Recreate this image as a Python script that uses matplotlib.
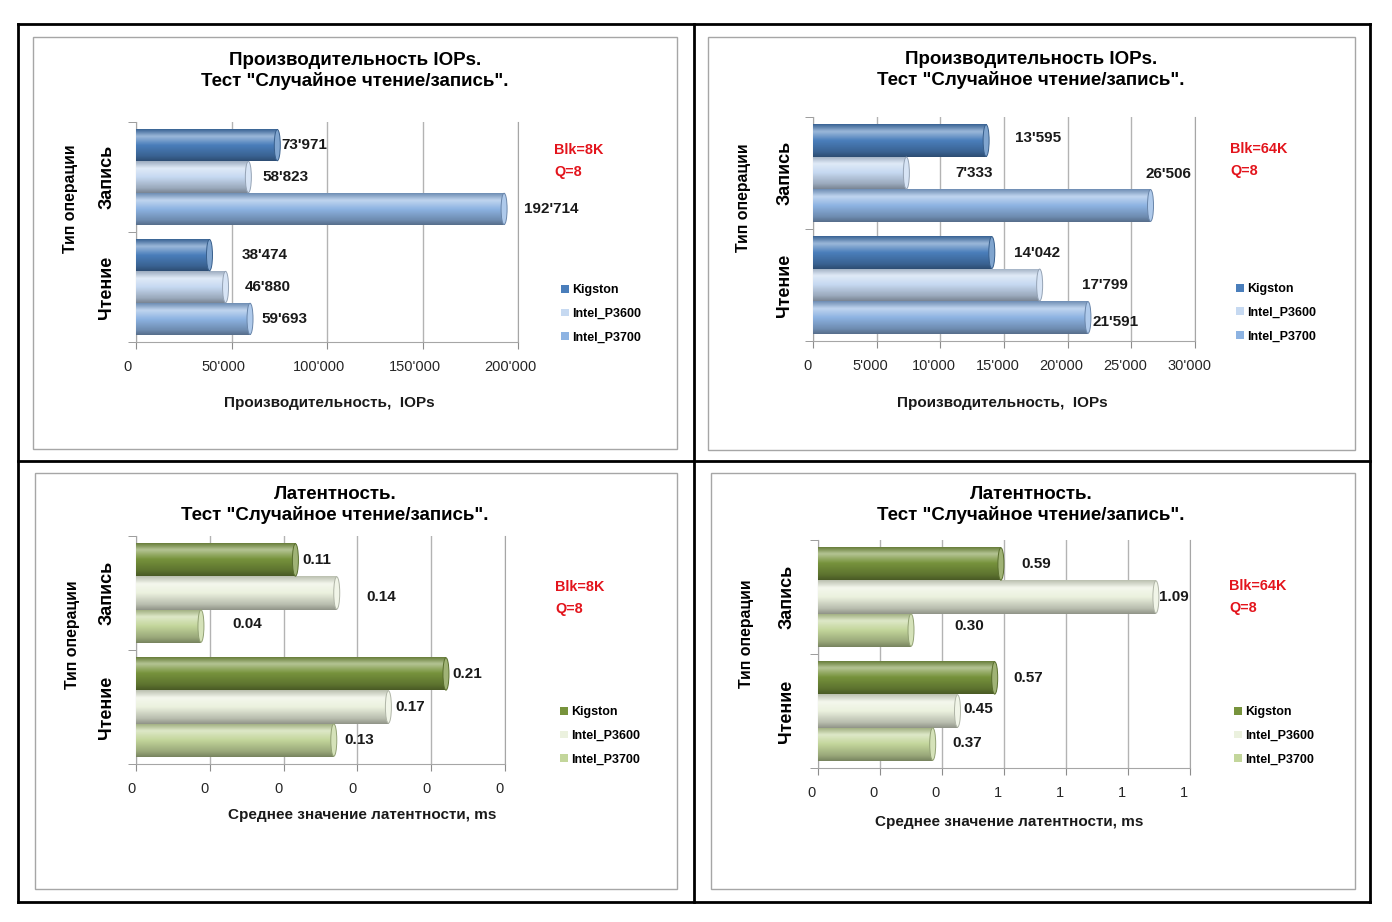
import numpy as np
import matplotlib
matplotlib.use('Agg')
import matplotlib.pyplot as plt
from matplotlib.colors import to_rgb
from matplotlib.patches import Ellipse, Rectangle
from matplotlib.lines import Line2D
from matplotlib.transforms import ScaledTranslation

plt.rcParams['font.family'] = ['Liberation Sans', 'DejaVu Sans']

W, H = 1392, 922

# data: index 0 = Чтение (read), 1 = Запись (write)
categories = ['Чтение', 'Запись']
series = ['Kigston', 'Intel_P3600', 'Intel_P3700']

iops8k_kingston = [38474, 73971]
iops8k_p3600 = [46880, 58823]
iops8k_p3700 = [59693, 192714]

iops64k_kingston = [14042, 13595]
iops64k_p3600 = [17799, 7333]
iops64k_p3700 = [21591, 26506]

lat8k_kingston = [0.21, 0.108]
lat8k_p3600 = [0.171, 0.136]
lat8k_p3700 = [0.134, 0.044]

lat64k_kingston = [0.57, 0.59]
lat64k_p3600 = [0.45, 1.09]
lat64k_p3700 = [0.37, 0.30]

blue_colors = ['#4a7ebb', '#c6d9f1', '#8db3e2']
green_colors = ['#77933c', '#ebf1de', '#c3d69b']

title_iops = 'Производительность IOPs.\nТест "Случайное чтение/запись".'
title_lat = 'Латентность.\nТест "Случайное чтение/запись".'
xlabel_iops = 'Производительность,  IOPs'
xlabel_lat = 'Среднее значение латентности, ms'


def px_rect(l, t, r, b):
    return [l / W, 1 - b / H, (r - l) / W, (b - t) / H]


def fx(x):
    return x / W


def fy(y):
    return 1 - y / H


def shade(c):
    # vertical gradient that makes a flat bar look like a cylinder
    c = np.array(to_rgb(c))
    white = np.ones(3)
    stops = [(0.0, c * 0.8), (0.22, c + (white - c) * 0.45), (0.5, c),
             (0.85, c * 0.78), (1.0, c * 0.62)]
    t = np.linspace(0, 1, 40)
    rows = np.array([np.interp(t, [s[0] for s in stops], [s[1][k] for s in stops]) for k in range(3)]).T
    return rows[:, None, :]


def iops_fmt(v, pos=None):
    return f"{int(round(v)):,}".replace(',', "'")


fig = plt.figure(figsize=(W / 100, H / 100), dpi=100)

# outer table lines
for (x0, y0, x1, y1) in [(18, 24, 1370, 24), (18, 902, 1370, 902), (18, 24, 18, 902),
                         (1370, 24, 1370, 902), (694, 24, 694, 902), (18, 461, 1370, 461)]:
    fig.add_artist(Line2D([fx(x0), fx(x1)], [fy(y0), fy(y1)], color='black', lw=2))

# chart frames
for (l, t, r, b) in [(33, 37, 677, 449), (708, 37, 1355, 450), (35, 473, 677, 889), (711, 473, 1355, 889)]:
    fig.add_artist(Rectangle((fx(l), fy(b)), fx(r - l), (b - t) / H, fill=False,
                             edgecolor='#a6a6a6', lw=1))


def panel(rect_px, values, colors, xmax, xstep, fmt, labels_fmt, title, xlabel,
          blk, label_off, title_xy, ylab_xy, cat_x, xlab_xy, blk_xy, leg_xy, tick_dx):
    l, t, r, b = rect_px
    ax = fig.add_axes(px_rect(l, t, r, b))
    ax.set_facecolor('none')
    y = np.arange(len(categories))
    h = 0.29
    offs = [h, 0, -h]
    px_per_x = (r - l) / xmax
    cap_w = 6 / px_per_x
    bars_all = []
    for i, (vals, c) in enumerate(zip(values, colors)):
        bars = ax.barh(y + offs[i], vals, height=h, color=c, edgecolor='none',
                       label=series[i], zorder=2)
        bars_all.append(bars)
        img = shade(c)
        for j, bar in enumerate(bars):
            w = bar.get_width()
            yb = bar.get_y()
            im = ax.imshow(img, extent=[0, w, yb, yb + h], aspect='auto', zorder=3,
                           interpolation='bilinear')
            im.set_clip_path(bar)
            cc = np.array(to_rgb(c))
            ax.add_patch(Ellipse((w, yb + h / 2), cap_w, h * 0.98,
                                 facecolor=cc + (1 - cc) * 0.3, edgecolor=cc * 0.75,
                                 lw=0.7, zorder=4))
            dx, dy = label_off[i][j]
            ax.annotate(labels_fmt(w), (w, yb + h / 2), xytext=(dx * 0.72, -dy * 0.72),
                        textcoords='offset points', ha='left', va='center',
                        fontsize=11, fontweight='bold', color='#1a1a1a', zorder=5)

    ax.set_xlim(0, xmax)
    ax.set_ylim(-0.5, 1.5)
    ax.set_xticks(np.arange(0, xmax + xstep / 2, xstep))
    ax.xaxis.set_major_formatter(plt.FuncFormatter(fmt))
    ax.grid(axis='x', color='#b3b3b3', lw=1, zorder=0)
    ax.set_yticks(y)
    ax.set_yticklabels([])
    ax.set_yticks([-0.5, 0.5, 1.5], minor=True)
    ax.tick_params(axis='y', which='minor', length=6, color='#8c8c8c')
    ax.tick_params(axis='y', which='major', length=0)
    ax.tick_params(axis='x', length=5, color='#8c8c8c', pad=8, labelsize=10.5,
                   labelcolor='#262626')
    shift = ScaledTranslation(tick_dx / 100, 0, fig.dpi_scale_trans)
    for lab in ax.get_xticklabels():
        lab.set_transform(lab.get_transform() + shift)
    ax.spines['top'].set_visible(False)
    for s in ['left', 'bottom', 'right']:
        ax.spines[s].set_color('#a6a6a6')

    for k, cat in enumerate(categories):
        fig.text(fx(cat_x), fy(b - (b - t) * (y[k] + 0.5) / 2.0), cat, rotation=90,
                 ha='center', va='center', fontsize=13, fontweight='bold')
    fig.text(fx(ylab_xy[0]), fy(ylab_xy[1]), 'Тип операции', rotation=90, ha='center',
             va='center', fontsize=11.4, fontweight='bold')
    fig.text(fx(title_xy[0]), fy(title_xy[1]), title, ha='center', va='center',
             fontsize=13.5, fontweight='bold', linespacing=1.25)
    fig.text(fx(xlab_xy[0]), fy(xlab_xy[1]), xlabel, ha='center', va='center',
             fontsize=11, fontweight='bold', color='#1a1a1a')
    fig.text(fx(blk_xy[0]), fy(blk_xy[1]), blk, ha='left', va='center', fontsize=10.4,
             fontweight='bold', color='#e3141c', linespacing=1.65)
    handles = [bb.patches[0] for bb in bars_all]
    fig.legend(handles, series, loc='upper left', bbox_to_anchor=(fx(leg_xy[0]), fy(leg_xy[1])),
               frameon=False, prop={'weight': 'bold', 'size': 9},
               handlelength=0.6, handleheight=0.6, handletextpad=0.3, labelspacing=0.95,
               borderpad=0, borderaxespad=0)
    return ax


lat_fmt = lambda v, pos=None: f"{v:.0f}"

panel((136, 122, 518, 342), [iops8k_kingston, iops8k_p3600, iops8k_p3700], blue_colors,
      200000, 50000, iops_fmt, iops_fmt, title_iops, xlabel_iops, 'Blk=8K\nQ=8',
      [[(32, 0), (4, 0)], [(19, 0), (14, 0)], [(11, 0), (20, 0)]],
      (355, 71), (70, 199), 107, (329, 403), (554, 161), (561, 284), -8)

panel((813, 117, 1195, 341), [iops64k_kingston, iops64k_p3600, iops64k_p3700], blue_colors,
      30000, 5000, iops_fmt, iops_fmt, title_iops, xlabel_iops, 'Blk=64K\nQ=8',
      [[(22, 0), (29, -3)], [(42, 0), (49, 0)], [(5, 5), (-5, -31)]],
      (1031, 70), (744, 198), 785, (1002, 403), (1230, 160), (1236, 283), -6)

panel((136, 536, 505, 764), [lat8k_kingston, lat8k_p3600, lat8k_p3700], green_colors,
      0.25, 0.05, lat_fmt, lambda v: f"{v:.2f}", title_lat, xlabel_lat, 'Blk=8K\nQ=8',
      [[(6, 0), (7, 0)], [(7, 0), (30, 4)], [(11, 0), (31, -2)]],
      (335, 505), (72, 635), 107, (362, 815), (555, 598), (560, 706), -5)

panel((818, 540, 1190, 768), [lat64k_kingston, lat64k_p3600, lat64k_p3700], green_colors,
      1.2, 0.2, lat_fmt, lambda v: f"{v:.2f}", title_lat, xlabel_lat, 'Blk=64K\nQ=8',
      [[(19, 0), (20, 0)], [(6, -2), (3, 0)], [(20, -1), (43, -4)]],
      (1031, 505), (747, 634), 787, (1009, 822), (1229, 597), (1234, 706), -6)

fig.savefig('out.png', dpi=100)
